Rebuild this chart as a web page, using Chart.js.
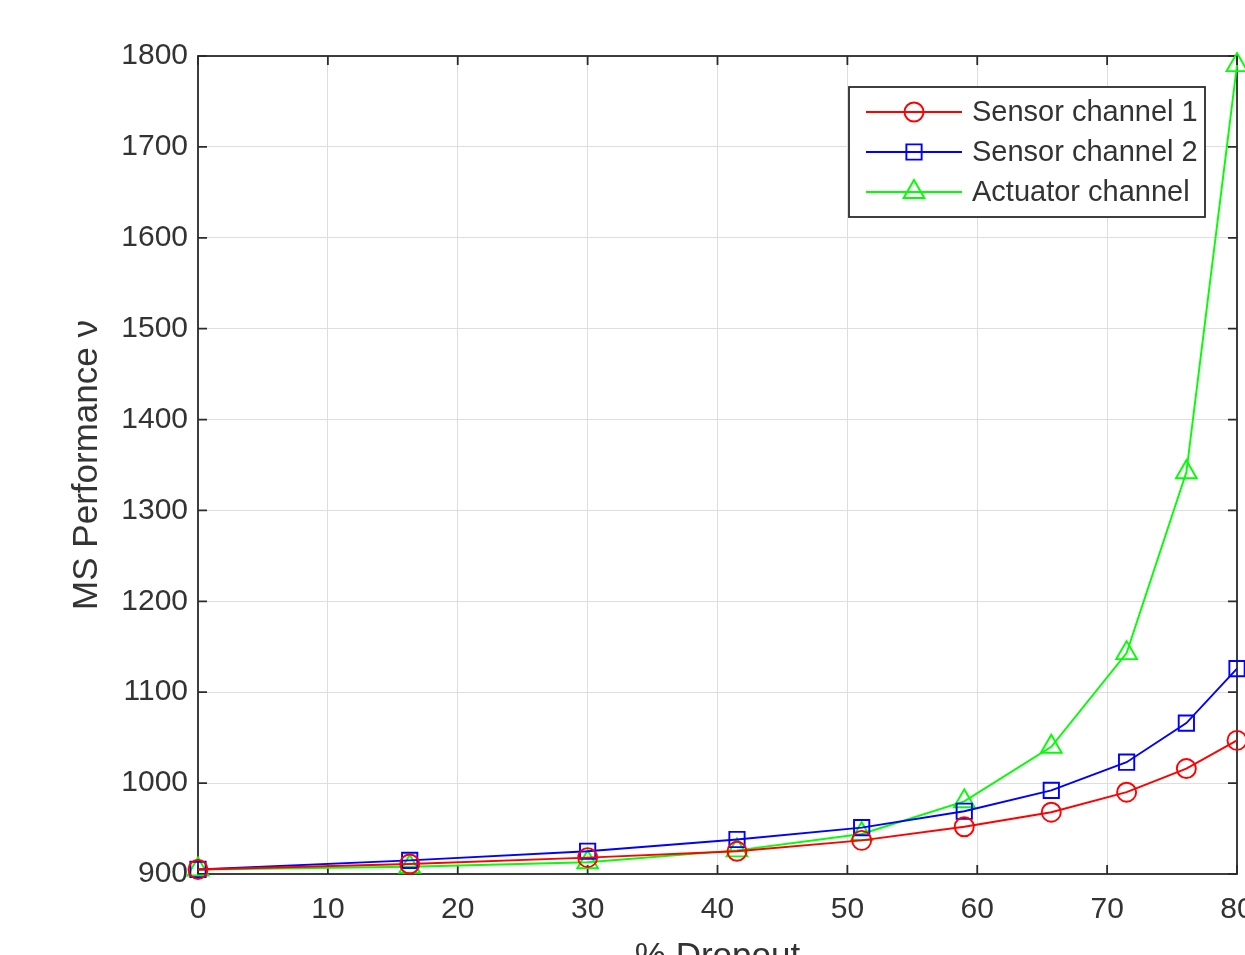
<!DOCTYPE html>
<html>
<head>
<meta charset="utf-8">
<title>MS Performance vs Dropout</title>
<script src="https://cdn.jsdelivr.net/npm/chart.js@4.4.1/dist/chart.umd.min.js"></script>
<style>
    body { margin: 0; background: #ffffff; }
    #wrap { width: 1245px; height: 955px; overflow: hidden; position: relative; }
    canvas { display: block; }
</style>
</head>
<body>
<div id="wrap">
    <canvas id="graficoDropout" width="1300" height="1000" style="width:1300px;height:1000px"></canvas>
</div>
<script>
const dropout = [0, 16.3, 30, 41.5, 51.1, 59, 65.7, 71.5, 76.1, 80];
const sensor1 = [905, 911, 918, 925, 937, 952, 968, 990, 1016, 1047];
const sensor2 = [905, 915, 925, 938, 951, 969, 992, 1023, 1066, 1126];
const actuator = [905, 908, 913, 926, 944, 980, 1040, 1143, 1342, 1790];

const xTicks = [0, 10, 20, 30, 40, 50, 60, 70, 80];
const yTicks = [900, 1000, 1100, 1200, 1300, 1400, 1500, 1600, 1700, 1800];

const seriesNames = ['Sensor channel 1', 'Sensor channel 2', 'Actuator channel'];

const corTexto = '#333333';
const fonte = 'Arial, "Liberation Sans", Helvetica, sans-serif';

function pares(valores) {
    return dropout.map((x, i) => ({ x: x, y: valores[i] }));
}

// box round the plot with inward ticks on all four sides
const caixaEixos = {
    id: 'caixaEixos',
    beforeDatasetsDraw(chart) {
        const { ctx, chartArea: a, scales } = chart;
        const tam = 9;
        ctx.save();
        ctx.strokeStyle = '#2b2b2b';
        ctx.lineWidth = 1.8;
        ctx.beginPath();
        scales.x.ticks.forEach(t => {
            const px = scales.x.getPixelForValue(t.value);
            ctx.moveTo(px, a.bottom);
            ctx.lineTo(px, a.bottom - tam);
            ctx.moveTo(px, a.top);
            ctx.lineTo(px, a.top + tam);
        });
        scales.y.ticks.forEach(t => {
            const py = scales.y.getPixelForValue(t.value);
            ctx.moveTo(a.left, py);
            ctx.lineTo(a.left + tam, py);
            ctx.moveTo(a.right, py);
            ctx.lineTo(a.right - tam, py);
        });
        ctx.stroke();
        ctx.strokeRect(a.left, a.top, a.right - a.left, a.bottom - a.top);
        ctx.restore();
    }
};

// legend box drawn inside the plot, MATLAB style
const legendaCaixa = {
    id: 'legendaCaixa',
    afterDraw(chart) {
        const { ctx } = chart;
        const x0 = 849, y0 = 87, w = 356, h = 130;
        ctx.save();
        ctx.fillStyle = '#ffffff';
        ctx.fillRect(x0, y0, w, h);
        ctx.strokeStyle = '#2b2b2b';
        ctx.lineWidth = 1.8;
        ctx.strokeRect(x0, y0, w, h);
        chart.data.datasets.forEach((ds, i) => {
            const yy = y0 + 25 + i * 40;
            ctx.strokeStyle = ds.borderColor;
            ctx.lineWidth = ds.borderWidth;
            ctx.beginPath();
            ctx.moveTo(x0 + 17, yy);
            ctx.lineTo(x0 + 113, yy);
            ctx.stroke();
            ctx.fillStyle = 'rgba(0,0,0,0)';
            ctx.lineWidth = ds.pointBorderWidth;
            Chart.helpers.drawPoint(ctx, {
                pointStyle: ds.pointStyle,
                radius: ds.pointRadius,
                borderWidth: ds.pointBorderWidth,
                rotation: 0
            }, x0 + 65, yy);
            ctx.fillStyle = corTexto;
            ctx.font = '29px ' + fonte;
            ctx.textBaseline = 'middle';
            ctx.textAlign = 'left';
            ctx.fillText(ds.label, x0 + 123, yy + 1);
        });
        ctx.restore();
    }
};

function serie(nome, valores, cor, estilo, raio) {
    return {
        label: nome,
        data: pares(valores),
        borderColor: cor,
        backgroundColor: cor,
        borderWidth: 1.9,
        pointStyle: estilo,
        pointRadius: raio,
        pointHoverRadius: raio,
        pointBorderWidth: 1.9,
        pointBorderColor: cor,
        pointBackgroundColor: 'rgba(0,0,0,0)',
        tension: 0,
        fill: false,
        clip: false
    };
}

const ctx = document.getElementById('graficoDropout').getContext('2d');
new Chart(ctx, {
    type: 'line',
    data: {
        datasets: [
            serie(seriesNames[0], sensor1, '#ff0000', 'circle', 9.5),
            serie(seriesNames[1], sensor2, '#0000ff', 'rect', 10.8),
            serie(seriesNames[2], actuator, '#00ff00', 'triangle', 12)
        ]
    },
    options: {
        responsive: false,
        animation: false,
        events: [],
        layout: { padding: { top: 56, right: 63, left: 0, bottom: 0 } },
        plugins: {
            legend: { display: false },
            tooltip: { enabled: false }
        },
        scales: {
            x: {
                type: 'linear',
                min: 0,
                max: 80,
                afterBuildTicks: scale => { scale.ticks = xTicks.map(v => ({ value: v })); },
                afterFit: scale => { scale.height = 126; },
                grid: { color: '#dedede', lineWidth: 1, drawTicks: false },
                border: { display: false },
                ticks: {
                    padding: 18,
                    maxRotation: 0,
                    color: corTexto,
                    font: { family: fonte, size: 30 },
                    callback: value => String(value)
                },
                title: {
                    display: true,
                    text: '% Dropout',
                    color: corTexto,
                    font: { family: fonte, size: 35 },
                    padding: { top: 0, bottom: 22 }
                }
            },
            y: {
                type: 'linear',
                min: 900,
                max: 1800,
                afterBuildTicks: scale => { scale.ticks = yTicks.map(v => ({ value: v })); },
                afterFit: scale => { scale.width = 198; },
                grid: { color: '#dedede', lineWidth: 1, drawTicks: false },
                border: { display: false },
                ticks: {
                    padding: 10,
                    color: corTexto,
                    font: { family: fonte, size: 30 },
                    callback: value => String(value)
                },
                title: {
                    display: true,
                    text: 'MS Performance \u03bd',
                    color: corTexto,
                    font: { family: fonte, size: 35 },
                    padding: { top: 66, bottom: 0 }
                }
            }
        }
    },
    plugins: [caixaEixos, legendaCaixa]
});
</script>
</body>
</html>
